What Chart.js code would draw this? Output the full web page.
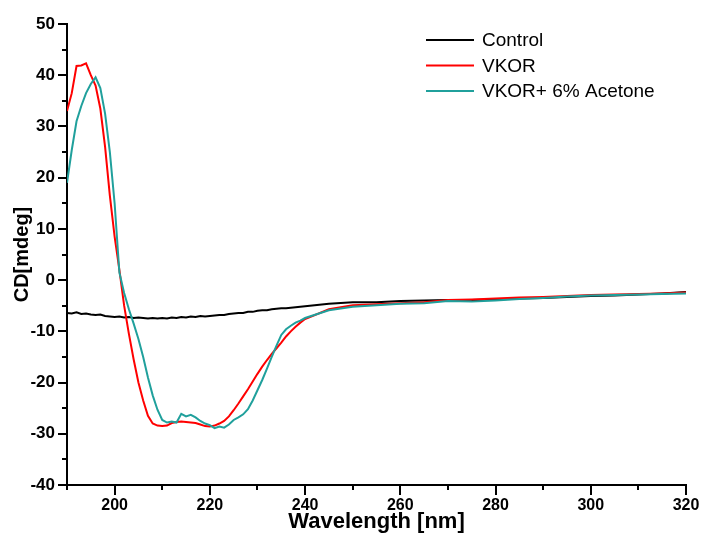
<!DOCTYPE html>
<html>
<head>
<meta charset="utf-8">
<script src="https://cdn.jsdelivr.net/npm/chart.js@4"></script>
<style>
  html, body { margin: 0; padding: 0; background: #fff; }
  #wrap { width: 702px; height: 539px; }
</style>
</head>
<body>
<div id="wrap"><canvas id="cd-chart" width="702" height="539"></canvas></div>
<script>
// Longueurs d'onde (nm)
const wavelengths = [
  190, 191, 192, 193, 194, 195, 196, 197, 198, 199,
  200, 201, 202, 203, 204, 205, 206, 207, 208, 209,
  210, 211, 212, 213, 214, 215, 216, 217, 218, 219,
  220, 221, 222, 223, 224, 225, 226, 227, 228, 229,
  230, 231, 232, 233, 234, 235, 236, 237, 238, 239,
  240, 245, 250, 255, 260, 265, 270, 275, 280, 285,
  290, 295, 300, 305, 310, 315, 320
];

const seriesLabels = ['Control', 'VKOR', 'VKOR+ 6% Acetone'];

const controlValues = [
  -6.4, -6.5, -6.3, -6.6, -6.5, -6.7, -6.8, -6.7, -7.0, -7.1,
  -7.2, -7.1, -7.3, -7.2, -7.4, -7.3, -7.4, -7.5, -7.4, -7.5,
  -7.4, -7.5, -7.3, -7.4, -7.2, -7.3, -7.1, -7.2, -7.0, -7.1,
  -7.0, -6.9, -6.8, -6.8, -6.6, -6.5, -6.4, -6.4, -6.2, -6.2,
  -6.0, -5.9, -5.9, -5.7, -5.6, -5.5, -5.5, -5.4, -5.3, -5.2,
  -5.1, -4.6, -4.3, -4.3, -4.1, -4.0, -3.9, -3.9, -3.8, -3.6,
  -3.5, -3.3, -3.1, -3.0, -2.8, -2.6, -2.3
];

const vkorValues = [
  33.0, 36.5, 41.8, 41.9, 42.3, 40.0, 38.0, 33.5, 26.0, 16.5,
  8.5, 2.0, -5.0, -10.5, -15.5, -20.0, -23.5, -26.5, -28.0, -28.4,
  -28.5, -28.4, -27.9, -27.7, -27.6, -27.7, -27.8, -27.9, -28.2, -28.5,
  -28.6, -28.4, -28.0, -27.5, -26.6, -25.4, -24.1, -22.7, -21.3, -19.8,
  -18.3, -16.9, -15.6, -14.4, -13.3, -12.2, -11.0, -10.0, -9.1, -8.3,
  -7.6, -5.7, -4.9, -4.7, -4.5, -4.3, -3.9, -3.8, -3.6, -3.4,
  -3.3, -3.1, -2.9, -2.8, -2.7, -2.6, -2.4
];

const acetoneValues = [
  19.0, 25.4, 31.0, 34.0, 36.5, 38.3, 39.6, 37.5, 32.5, 25.0,
  15.0, 1.5, -2.5, -5.7, -8.5, -11.5, -15.0, -19.0, -22.5, -25.3,
  -27.3, -27.8, -27.6, -27.8, -26.1, -26.6, -26.3, -26.8, -27.5, -28.0,
  -28.3, -28.9, -28.6, -28.8, -28.2, -27.3, -26.8, -26.2, -25.2, -23.5,
  -21.5, -19.5, -17.3, -15.0, -12.8, -10.7, -9.6, -8.9, -8.3, -7.9,
  -7.4, -5.9, -5.2, -4.9, -4.6, -4.5, -4.1, -4.2, -4.0, -3.7,
  -3.5, -3.2, -3.0, -2.9, -2.8, -2.7, -2.6
];

const seriesColors = ['#000000', '#ff0000', '#20a09c'];

const yTicksMin = -40;
const yTicksMax = 50;
const xTicksMin = 190;
const xTicksMax = 320;

const FONT = "'Liberation Sans', Arial, sans-serif";

// Construire les datasets
const allValues = [controlValues, vkorValues, acetoneValues];
const datasets = seriesLabels.map((label, i) => ({
  label: label,
  data: wavelengths.map((w, k) => ({ x: w, y: allValues[i][k] })),
  borderColor: seriesColors[i],
  backgroundColor: seriesColors[i],
  borderWidth: 2,
  pointRadius: 0,
  tension: 0,
  order: 2 - i, // Acetone au-dessus
}));

// Graduations majeures / mineures dessinées vers l'extérieur
const tickMarks = {
  id: 'tickMarks',
  afterDraw(chart) {
    const ctx = chart.ctx;
    const xs = chart.scales.x;
    const ys = chart.scales.y;
    const area = chart.chartArea;
    ctx.save();
    ctx.strokeStyle = '#000';
    ctx.lineWidth = 2;
    ys.ticks.forEach(t => {
      const py = Math.round(ys.getPixelForValue(t.value));
      const len = t.value % 10 === 0 ? 9 : 5;
      ctx.beginPath();
      ctx.moveTo(area.left, py);
      ctx.lineTo(area.left - len, py);
      ctx.stroke();
    });
    xs.ticks.forEach(t => {
      const px = Math.round(xs.getPixelForValue(t.value));
      const len = t.value % 20 === 0 ? 10 : 5;
      ctx.beginPath();
      ctx.moveTo(px, area.bottom);
      ctx.lineTo(px, area.bottom + len);
      ctx.stroke();
    });
    ctx.restore();
  }
};

// Légende dessinée dans la zone du graphique
const innerLegend = {
  id: 'innerLegend',
  afterDraw(chart) {
    const ctx = chart.ctx;
    const area = chart.chartArea;
    const x0 = area.right - 260;
    const y0 = area.top + 16;
    ctx.save();
    ctx.font = '19px ' + FONT;
    ctx.textBaseline = 'middle';
    chart.data.datasets.forEach((ds, i) => {
      const y = y0 + i * 25.5;
      ctx.strokeStyle = ds.borderColor;
      ctx.lineWidth = 2;
      ctx.beginPath();
      ctx.moveTo(x0, y);
      ctx.lineTo(x0 + 48, y);
      ctx.stroke();
      ctx.fillStyle = '#000';
      ctx.fillText(ds.label, x0 + 56, y + 1);
    });
    ctx.restore();
  }
};

const ctxCD = document.getElementById('cd-chart').getContext('2d');
new Chart(ctxCD, {
  type: 'line',
  data: { datasets: datasets },
  plugins: [tickMarks, innerLegend],
  options: {
    responsive: false,
    animation: false,
    layout: { padding: { left: 0, top: 24, right: 16, bottom: 0 } },
    plugins: {
      legend: { display: false },
      tooltip: { enabled: false },
    },
    scales: {
      x: {
        type: 'linear',
        min: xTicksMin,
        max: xTicksMax,
        afterFit: s => { s.height = 54; s.paddingLeft = 0; s.paddingRight = 0; },
        border: { color: '#000', width: 2 },
        grid: { display: true, drawOnChartArea: false, drawTicks: false },
        ticks: {
          stepSize: 10,
          autoSkip: false,
          maxRotation: 0,
          padding: 11,
          color: '#000',
          font: { family: FONT, size: 16, weight: 'bold' },
          callback: v => (v % 20 === 0 ? v : ''),
        },
        title: {
          display: true,
          text: 'Wavelength [nm]',
          color: '#000',
          font: { family: FONT, size: 22, weight: 'bold' },
          padding: { top: 0, bottom: 4 },
        },
      },
      y: {
        min: yTicksMin,
        max: yTicksMax,
        afterFit: s => { s.width = 67; s.paddingTop = 0; s.paddingBottom = 0; },
        border: { color: '#000', width: 2 },
        grid: { display: true, drawOnChartArea: false, drawTicks: false },
        ticks: {
          stepSize: 5,
          autoSkip: false,
          padding: 12,
          color: '#000',
          font: { family: FONT, size: 17, weight: 'bold' },
          callback: v => (v % 10 === 0 ? v : ''),
        },
        title: {
          display: true,
          text: 'CD[mdeg]',
          color: '#000',
          font: { family: FONT, size: 20, weight: 'bold' },
          padding: { top: 10, bottom: 0 },
        },
      },
    },
  },
});
</script>
</body>
</html>
